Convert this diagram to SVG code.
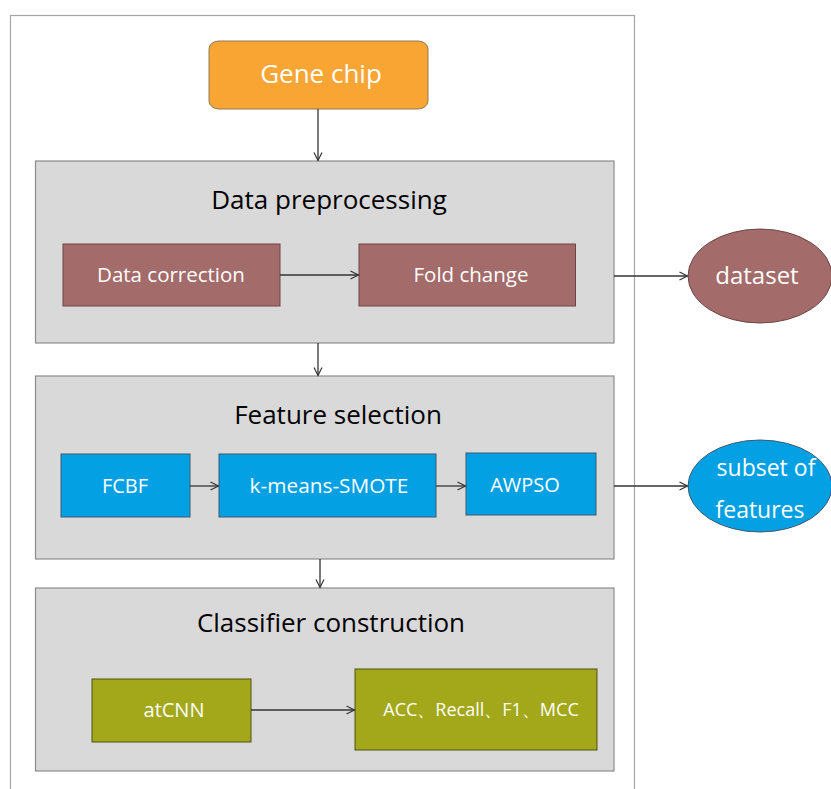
<svg xmlns="http://www.w3.org/2000/svg" width="831" height="789" viewBox="0 0 831 789">
<style>
.frame{fill:#fff;stroke:#a6a6a6;stroke-width:1.2}
.stage{fill:#d9d9d9;stroke:#8c8c8c;stroke-width:1.2}
.title{font-family:"Open Sans","Noto Sans",sans-serif;font-size:26px;fill:#000;text-anchor:middle}
.lbl{font-family:"Open Sans","Noto Sans",sans-serif;font-size:20px;fill:#fff;text-anchor:middle}
.brown{fill:#a36b6a;stroke:#6e4646;stroke-width:1}
.blue{fill:#04a0e4;stroke:#3c5a6e;stroke-width:1}
.olive{fill:#a2a81a;stroke:#4f5210;stroke-width:1}
.conn{stroke:#333;stroke-width:1.3;fill:none;marker-end:url(#arr)}
</style>
<defs>
<marker id="arr" viewBox="0 0 10 10" refX="9" refY="5" markerWidth="10" markerHeight="10" markerUnits="userSpaceOnUse" orient="auto">
<polyline points="1,1 9,5 1,9" fill="none" stroke="#333" stroke-width="1.2"/>
</marker>
</defs>
<rect class="frame" x="10.5" y="15.5" width="624" height="790"/>
<g id="gene-chip">
<rect x="209" y="41" width="219" height="68" rx="10" ry="8" fill="#f9a533" stroke="#8c7a5a" stroke-width="1"/>
<text class="lbl" x="321" y="83" style="font-size:26px">Gene chip</text>
</g>
<g id="data-preprocessing">
<rect class="stage" x="35.5" y="161" width="578.5" height="182"/>
<text class="title" x="329" y="209">Data preprocessing</text>
</g>
<g id="data-correction">
<rect class="brown" x="63" y="244" width="217" height="62"/>
<text class="lbl" x="171" y="282" style="font-size:20.5px">Data correction</text>
</g>
<g id="fold-change">
<rect class="brown" x="359" y="244" width="216.5" height="62"/>
<text class="lbl" x="471" y="282" style="font-size:20.5px">Fold change</text>
</g>
<g id="dataset">
<ellipse class="brown" cx="760" cy="276" rx="72" ry="47"/>
<text class="lbl" x="757" y="284" style="font-size:24px">dataset</text>
</g>
<g id="feature-selection">
<rect class="stage" x="35.5" y="376" width="578.5" height="183"/>
<text class="title" x="338" y="424">Feature selection</text>
</g>
<g id="fcbf">
<rect class="blue" x="61" y="454" width="129" height="63"/>
<text class="lbl" x="125" y="493">FCBF</text>
</g>
<g id="kmeans-smote">
<rect class="blue" x="219" y="454" width="217" height="63"/>
<text class="lbl" x="329" y="493" style="font-size:20.8px">k-means-SMOTE</text>
</g>
<g id="awpso">
<rect class="blue" x="466" y="453" width="130" height="62"/>
<text class="lbl" x="525" y="492">AWPSO</text>
</g>
<g id="subset-of-features">
<ellipse class="blue" cx="760" cy="486" rx="72" ry="46"/>
<text class="lbl" x="766" y="476" style="font-size:23px">subset of</text>
<text class="lbl" x="760" y="518" style="font-size:23px">features</text>
</g>
<g id="classifier-construction">
<rect class="stage" x="35.5" y="588" width="578.5" height="183"/>
<text class="title" x="331" y="632">Classifier construction</text>
</g>
<g id="atcnn">
<rect class="olive" x="92" y="679" width="159" height="63"/>
<text class="lbl" x="174" y="717">atCNN</text>
</g>
<g id="metrics">
<rect class="olive" x="355" y="669" width="242" height="81"/>
<text class="lbl" x="481" y="716" style="font-size:18px">ACC、Recall、F1、MCC</text>
</g>
<g id="connectors">
<line class="conn" x1="318" y1="109" x2="318" y2="160.5"/>
<line class="conn" x1="280" y1="275" x2="358.5" y2="275"/>
<line class="conn" x1="614" y1="276" x2="687.5" y2="276"/>
<line class="conn" x1="318" y1="343" x2="318" y2="375.5"/>
<line class="conn" x1="190" y1="486" x2="218.5" y2="486"/>
<line class="conn" x1="436" y1="486" x2="465.5" y2="486"/>
<line class="conn" x1="614" y1="486" x2="687.5" y2="486"/>
<line class="conn" x1="320" y1="559" x2="320" y2="587.5"/>
<line class="conn" x1="251" y1="710" x2="354.5" y2="710"/>
</g>
</svg>
